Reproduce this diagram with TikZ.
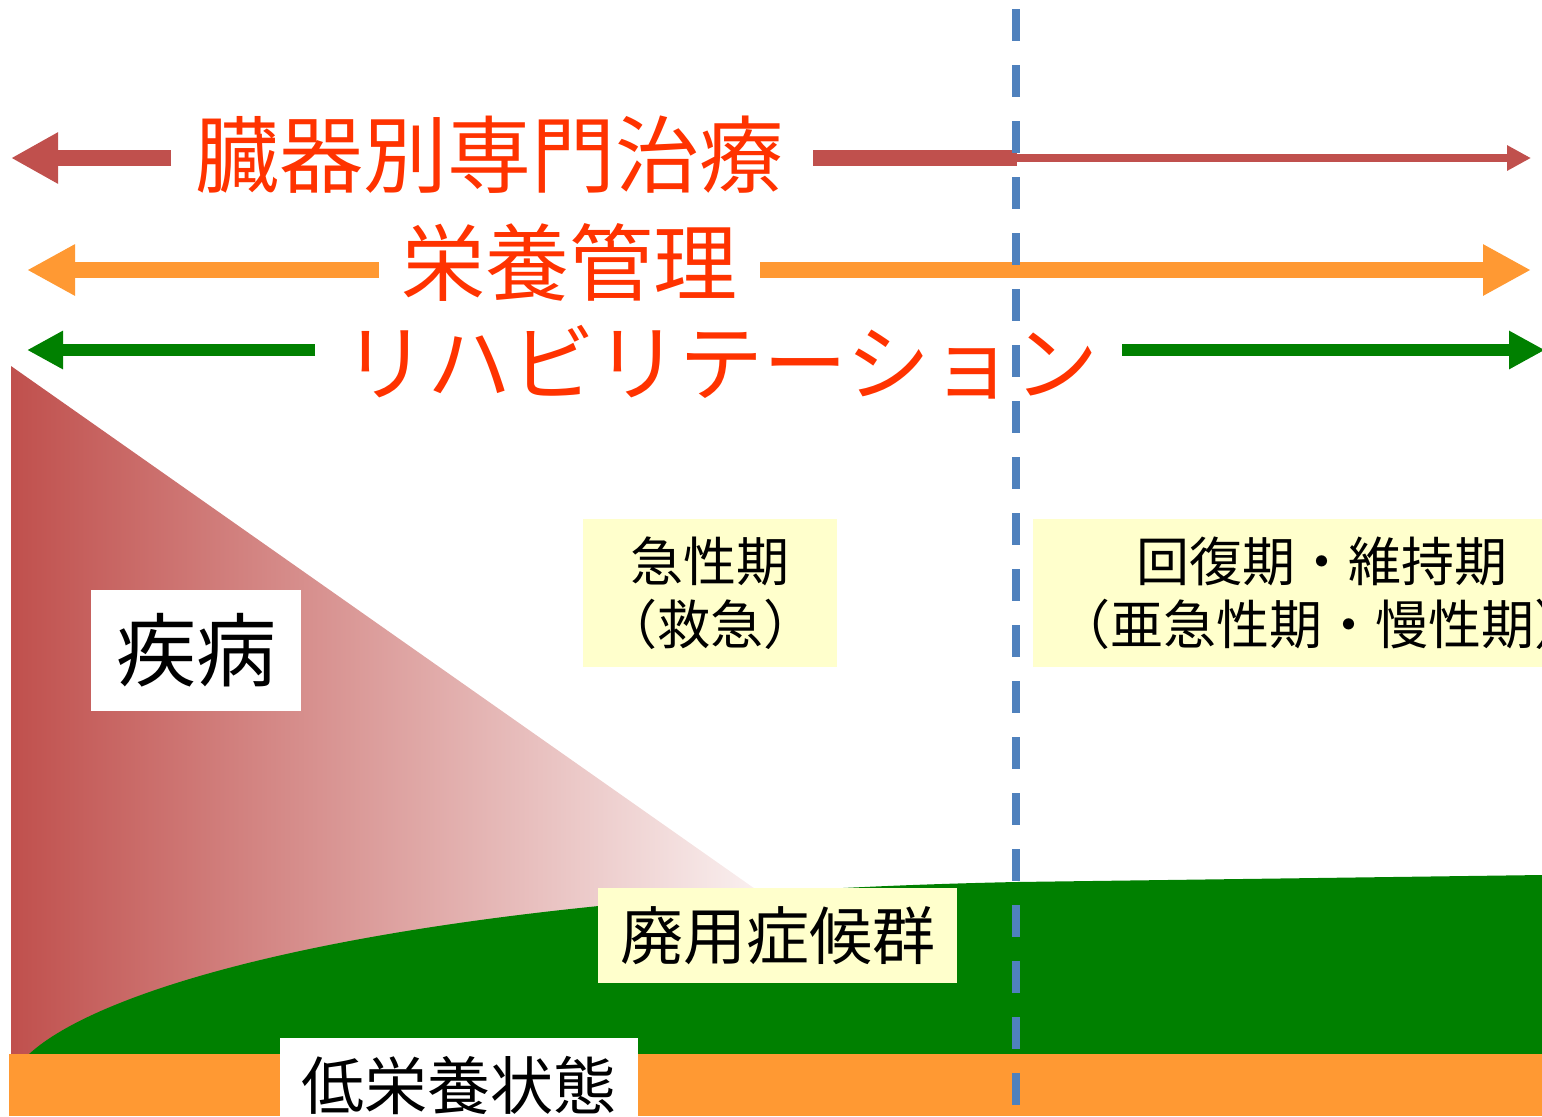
\documentclass[tikz,border=0pt]{standalone}
\usepackage{fontspec}
\setmainfont{Noto Sans CJK JP}
\usetikzlibrary{arrows.meta}
\definecolor{cbrown}{HTML}{C0504D}
\definecolor{corange}{HTML}{FF9933}
\definecolor{cgreen}{HTML}{008000}
\definecolor{ctext}{HTML}{FF3300}
\definecolor{cblue}{HTML}{4F81BD}
\definecolor{cyellow}{HTML}{FFFFCC}
\tikzset{
  biglabel/.style={text=ctext, inner sep=0pt, font=\fontsize{42pt}{50pt}\selectfont},
  boxnode/.style={inner sep=0pt, align=center, text=black},
  brownbar/.style={draw=cbrown, line width=8pt},
  orangebar/.style={draw=corange, line width=8pt, -{Triangle[length=24pt,width=24pt]}},
  greenbar/.style={draw=cgreen, line width=6pt, -{Triangle[length=18pt,width=18pt]}},
}
\begin{document}
\begin{tikzpicture}[x=0.5pt,y=-0.5pt]
\useasboundingbox (0,0) rectangle (1542,1116);
% disease triangle with gradient
\begin{scope}
  \clip (11,366) -- (11,1054) -- (990,1054) -- cycle;
  \shade[left color=cbrown, right color=white] (11,366) rectangle (830,1054);
\end{scope}
% disuse syndrome area
\fill[cgreen] (27,1056) .. controls (100,985) and (400,895) .. (1016,882) -- (1542,875) -- (1542,1056) -- cycle;
% low nutrition bar
\fill[corange] (9,1054) rectangle (1542,1116);
% arrows and labels
\node[biglabel] (organ) at (489,155) {臓器別専門治療};
\node[biglabel] (nutri) at (569,262) {栄養管理};
\node[biglabel] (rehab) at (721,362) {リハビリテーション};
\coordinate (b1s) at (171,158);
\coordinate (b1t) at (11,158);
\coordinate (b2s) at (813,158);
\coordinate (b2m) at (1017,158);
\coordinate (b2t) at (1531,158);
\coordinate (o1s) at (379,270);
\coordinate (o1t) at (27,270);
\coordinate (o2s) at (760,270);
\coordinate (o2t) at (1531,270);
\coordinate (g1s) at (315,350);
\coordinate (g1t) at (27,350);
\coordinate (g2s) at (1122,350);
\coordinate (g2t) at (1545,350);
\draw[brownbar, -{Triangle[length=23.5pt,width=24pt]}] (b1s) -- (b1t);
\draw[brownbar] (b2s) -- (b2m);
\draw[draw=cbrown, line width=4pt, -{Triangle[length=12pt,width=12pt]}] (b2m) -- (b2t);
\draw[orangebar] (o1s) -- (o1t);
\draw[orangebar] (o2s) -- (o2t);
\draw[greenbar] (g1s) -- (g1t);
\draw[greenbar] (g2s) -- (g2t);
% dashed divider
\coordinate (dtop) at (1016,9);
\coordinate (dbot) at (1016,1105);
\draw[cblue, line width=4pt, dash pattern=on 16pt off 12pt] (dtop) -- (dbot);
% boxes
\node[boxnode, fill=cyellow, minimum width=127pt, minimum height=74pt, font=\fontsize{26.5pt}{31.5pt}\selectfont] (acute) at (710,593) {急性期\\（救急）};
\node[boxnode, fill=cyellow, minimum width=289pt, minimum height=74pt, font=\fontsize{26.5pt}{31.5pt}\selectfont] (recov) at (1322,593) {回復期・維持期\\（亜急性期・慢性期）};
\node[boxnode, fill=white, minimum width=105pt, minimum height=60.5pt, font=\fontsize{40pt}{48pt}\selectfont] (disease) at (196,650.5) {疾病};
\node[boxnode, fill=cyellow, minimum width=179.5pt, minimum height=47.5pt, font=\fontsize{31.5pt}{38pt}\selectfont] (disuse) at (777.5,935.5) {廃用症候群};
\node[boxnode, fill=white, minimum width=179pt, minimum height=47.5pt, font=\fontsize{31.5pt}{38pt}\selectfont] (lownut) at (459,1085.5) {低栄養状態};
\end{tikzpicture}
\end{document}
